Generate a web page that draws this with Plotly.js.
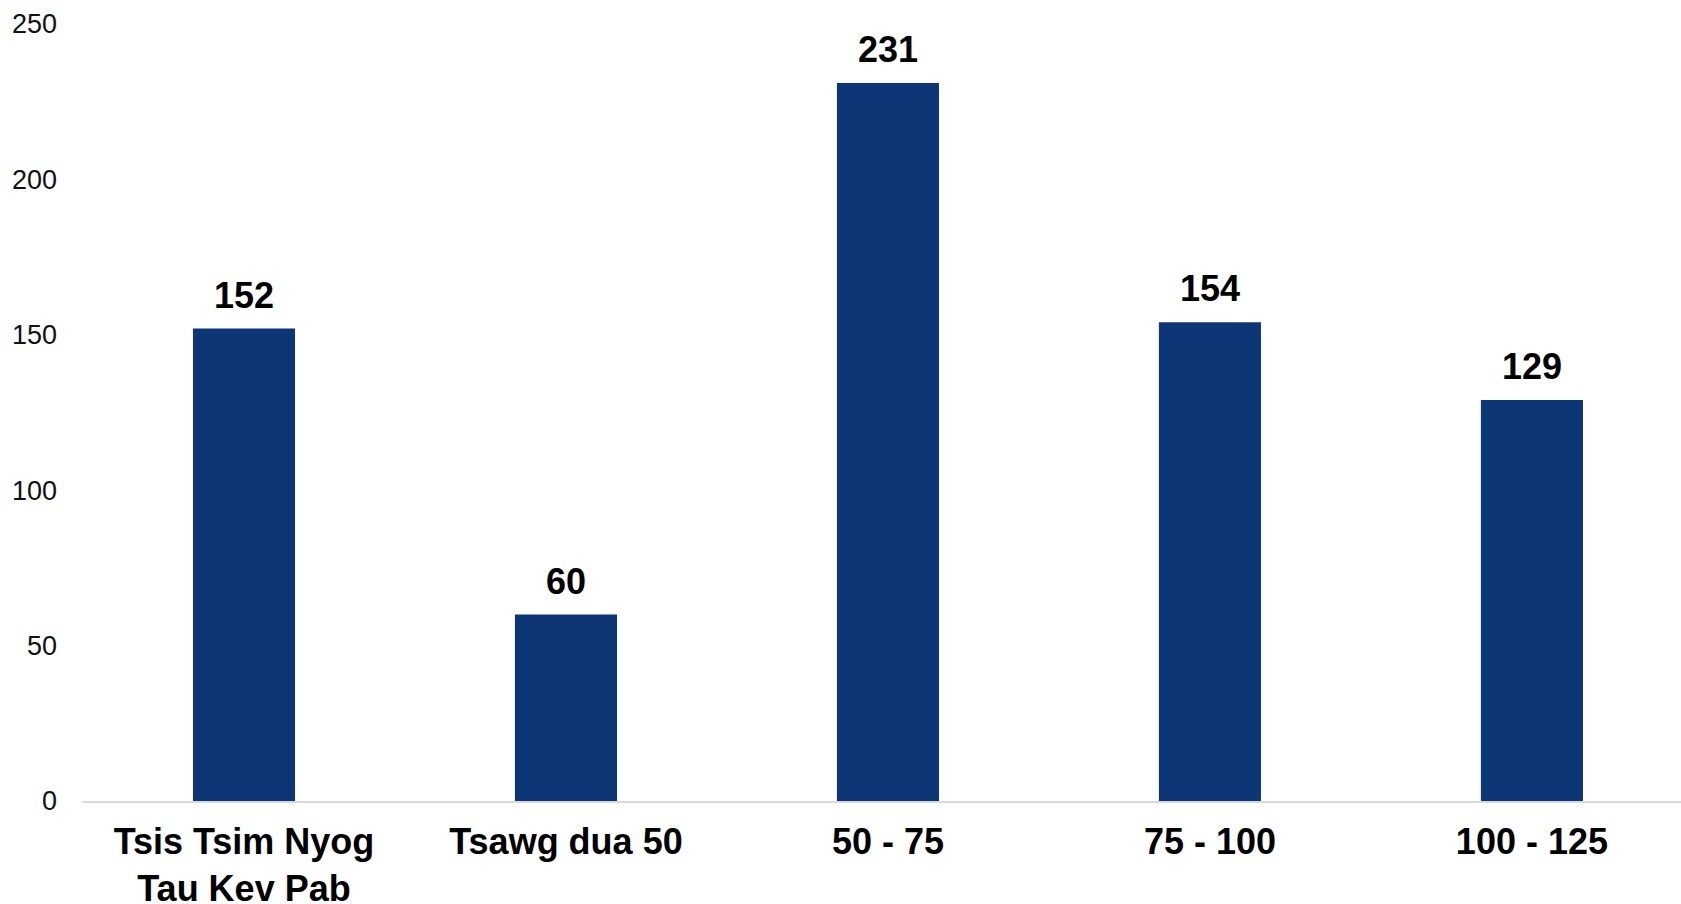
<!DOCTYPE html>
<html>
<head>
<meta charset="utf-8">
<script src="https://cdn.plot.ly/plotly-3.0.1.min.js"></script>
<style>html,body{margin:0;padding:0;background:#fff;}#chart{width:1681px;height:904px;}</style>
</head>
<body>
<div id="chart"></div>
<script>
const categories = ["Tsis Tsim Nyog<br>Tau Kev Pab", "Tsawg dua 50", "50 - 75", "75 - 100", "100 - 125"];
const values = [152, 60, 231, 154, 129];
const yTicks = [0, 50, 100, 150, 200, 250];

const FONT = "Liberation Sans, Arial, sans-serif";

const trace = {
  type: 'bar',
  x: categories,
  y: values,
  width: 0.317,
  marker: {color: '#0d3677'},
  hoverinfo: 'none'
};

const annotations = categories.map((c, i) => ({
  x: c, y: values[i], xref: 'x', yref: 'y',
  text: '<b>' + values[i] + '</b>',
  showarrow: false, yanchor: 'bottom', yshift: 11,
  font: {family: FONT, size: 36, color: '#000'}
}));

const layout = {
  width: 1681, height: 904,
  margin: {l: 83, r: 0, t: 24, b: 103},
  paper_bgcolor: '#fff', plot_bgcolor: '#fff',
  showlegend: false,
  xaxis: {
    type: 'category',
    range: [-0.5, 4.463],
    showgrid: false, zeroline: false,
    showline: true, linecolor: '#d9d9d9', linewidth: 2,
    ticks: '',
    ticklabelstandoff: 8,
    tickfont: {family: FONT, size: 36, color: '#000', weight: 'bold'},
    fixedrange: true
  },
  yaxis: {
    range: [0, 250],
    tickvals: yTicks,
    ticktext: yTicks.map(String),
    showgrid: false, zeroline: false, showline: false,
    ticks: '',
    ticklabelstandoff: 25,
    tickfont: {family: FONT, size: 27, color: '#111'},
    fixedrange: true
  },
  annotations: annotations
};

Plotly.newPlot('chart', [trace], layout, {displayModeBar: false, staticPlot: true});
</script>
</body>
</html>
